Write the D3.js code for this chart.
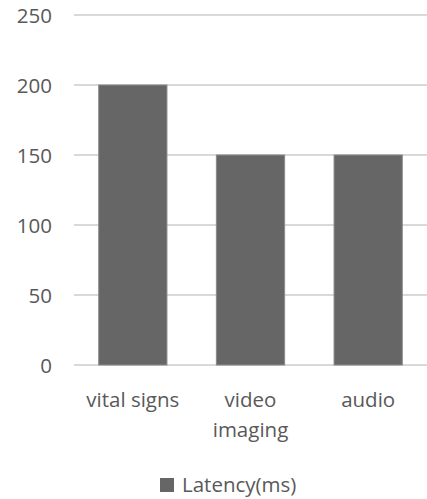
<!DOCTYPE html>
<html>
<head>
<meta charset="utf-8">
<script src="https://cdn.jsdelivr.net/npm/d3@7"></script>
<style>
  html, body { margin: 0; padding: 0; background: #fff; }
  svg { display: block; }
  text { font-family: "Open Sans", "Noto Sans", sans-serif; fill: #595959; }
</style>
</head>
<body>
<svg id="chart" width="427" height="499"></svg>
<script>
// Latency per data type
const categories = [["vital signs"], ["video", "imaging"], ["audio"]];
const latency = [200, 150, 150];
const yTicks = [0, 50, 100, 150, 200, 250];
const seriesName = "Latency(ms)";

const svg = d3.select("#chart");
const plot = { left: 74, right: 427, top: 15, bottom: 365 };
const fontSize = 20.5;

const x = d3.scaleBand()
  .domain(d3.range(categories.length))
  .range([plot.left, plot.right])
  .paddingInner(0.42)
  .paddingOuter(0.21);

const y = d3.scaleLinear().domain([0, 250]).range([plot.bottom, plot.top]);

// horizontal gridlines
svg.append("g").selectAll("line")
  .data(yTicks)
  .join("line")
  .attr("x1", plot.left).attr("x2", plot.right)
  .attr("y1", d => y(d)).attr("y2", d => y(d))
  .attr("stroke", "#d9d9d9")
  .attr("stroke-width", 2);

// y axis labels
const yAxis = d3.axisLeft(y).tickValues(yTicks).tickSize(0).tickPadding(0);
const ya = svg.append("g").attr("transform", "translate(52,0)").call(yAxis);
ya.select(".domain").remove();
ya.selectAll("text")
  .attr("font-size", fontSize)
  .attr("font-family", null)
  .attr("fill", "#595959")
  .attr("dy", "0.36em");

// bars
svg.append("g").selectAll("rect")
  .data(latency)
  .join("rect")
  .attr("x", (d, i) => x(i))
  .attr("width", x.bandwidth())
  .attr("y", d => y(d))
  .attr("height", d => y(0) - y(d))
  .attr("fill", "#666666")
  .attr("stroke", "#8a8a8a")
  .attr("stroke-width", 1);

// category labels (wrapped)
const cat = svg.append("g").selectAll("text")
  .data(categories)
  .join("text")
  .attr("x", (d, i) => x(i) + x.bandwidth() / 2)
  .attr("y", 407)
  .attr("text-anchor", "middle")
  .attr("font-size", fontSize);
cat.selectAll("tspan")
  .data(d => d)
  .join("tspan")
  .attr("x", function () { return this.parentNode.getAttribute("x"); })
  .attr("dy", (d, i) => i === 0 ? 0 : 30)
  .text(d => d);

// legend
const lg = svg.append("g");
lg.append("rect")
  .attr("x", 160).attr("y", 478)
  .attr("width", 14).attr("height", 14)
  .attr("fill", "#666666");
lg.append("text")
  .attr("x", 182).attr("y", 492)
  .attr("font-size", fontSize)
  .text(seriesName);
</script>
</body>
</html>
